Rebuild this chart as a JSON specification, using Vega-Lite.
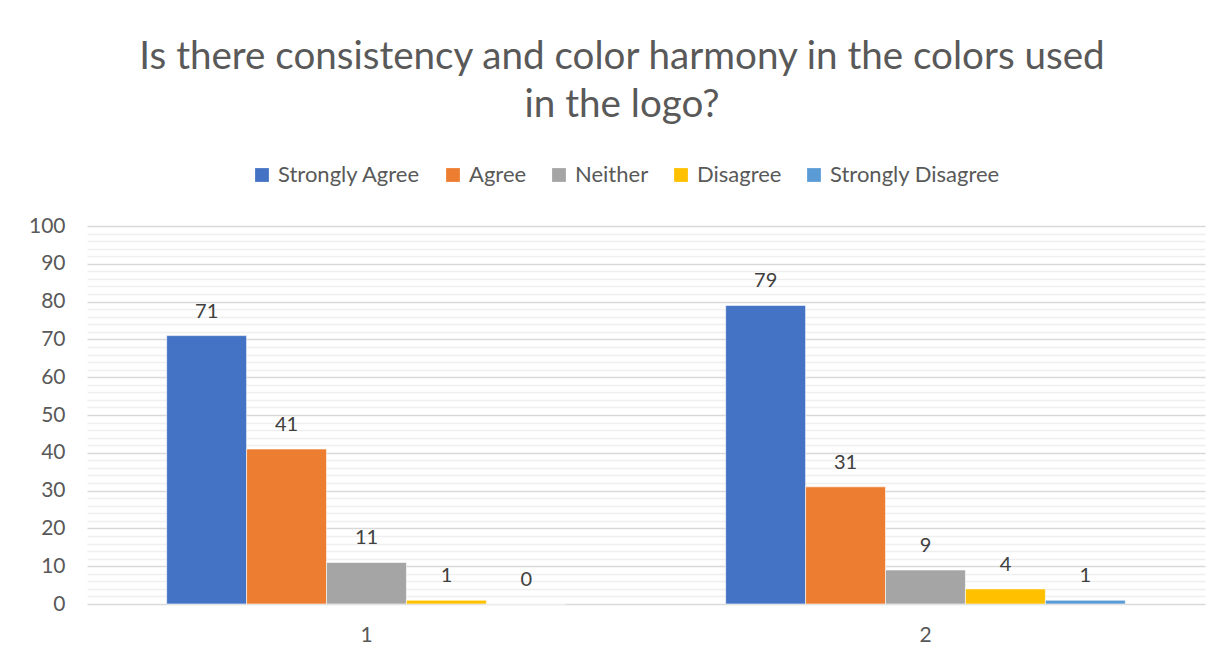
{
  "$schema": "https://vega.github.io/schema/vega-lite/v6.json",
  "width": 1118,
  "height": 378,
  "autosize": {"type": "none"},
  "padding": {"left": 87, "top": 226, "right": 26, "bottom": 59},
  "background": "white",
  "config": {
    "font": "Lato",
    "view": {"stroke": null}
  },
  "title": {
    "text": ["Is there consistency and color harmony in the colors used", "in the logo?"],
    "fontSize": 38.6,
    "fontWeight": "normal",
    "color": "#595959",
    "lineHeight": 48,
    "anchor": "middle",
    "dx": -24,
    "offset": 38,
    "font": "Lato"
  },
  "data": {
    "values": [
      {"group": "1", "response": "Strongly Agree", "count": 71},
      {"group": "1", "response": "Agree", "count": 41},
      {"group": "1", "response": "Neither", "count": 11},
      {"group": "1", "response": "Disagree", "count": 1},
      {"group": "1", "response": "Strongly Disagree", "count": 0},
      {"group": "2", "response": "Strongly Agree", "count": 79},
      {"group": "2", "response": "Agree", "count": 31},
      {"group": "2", "response": "Neither", "count": 9},
      {"group": "2", "response": "Disagree", "count": 4},
      {"group": "2", "response": "Strongly Disagree", "count": 1}
    ]
  },
  "encoding": {
    "x": {
      "field": "group",
      "type": "nominal",
      "scale": {"paddingInner": 0.285, "paddingOuter": 0.1425},
      "axis": {
        "title": null,
        "labelAngle": 0,
        "labelFontSize": 21,
        "labelColor": "#595959",
        "labelPadding": 20,
        "ticks": false,
        "domain": false,
        "grid": false
      }
    },
    "xOffset": {
      "field": "response",
      "type": "nominal",
      "sort": ["Strongly Agree", "Agree", "Neither", "Disagree", "Strongly Disagree"],
      "scale": {"paddingInner": 0, "paddingOuter": 0}
    },
    "y": {
      "field": "count",
      "type": "quantitative",
      "scale": {"domain": [0, 100], "nice": false},
      "axis": {
        "title": null,
        "values": [0, 2, 4, 6, 8, 10, 12, 14, 16, 18, 20, 22, 24, 26, 28, 30, 32, 34, 36, 38, 40, 42, 44, 46, 48, 50, 52, 54, 56, 58, 60, 62, 64, 66, 68, 70, 72, 74, 76, 78, 80, 82, 84, 86, 88, 90, 92, 94, 96, 98, 100],
        "labelExpr": "datum.value % 10 === 0 ? datum.label : ''",
        "labelFontSize": 21,
        "labelColor": "#595959",
        "labelPadding": 22,
        "ticks": false,
        "domain": false,
        "gridColor": {"condition": {"test": "datum.value % 10 === 0", "value": "#d9d9d9"}, "value": "#efefef"},
        "gridWidth": 1.3
      }
    }
  },
  "layer": [
    {
      "mark": {"type": "bar", "stroke": "white", "strokeWidth": 0.6},
      "encoding": {
        "color": {
          "field": "response",
          "type": "nominal",
          "sort": ["Strongly Agree", "Agree", "Neither", "Disagree", "Strongly Disagree"],
          "scale": {
            "domain": ["Strongly Agree", "Agree", "Neither", "Disagree", "Strongly Disagree"],
            "range": ["#4472c4", "#ed7d31", "#a5a5a5", "#ffc000", "#5b9bd5"]
          },
          "legend": {
            "title": null,
            "orient": "none",
            "direction": "horizontal",
            "legendX": 164,
            "legendY": -62,
            "symbolType": "square",
            "symbolSize": 190,
            "symbolStrokeWidth": 0,
            "labelFontSize": 22,
            "labelColor": "#595959",
            "labelOffset": 5,
            "labelLimit": 400,
            "columnPadding": 21
          }
        }
      }
    },
    {
      "mark": {"type": "text", "dy": -24, "fontSize": 20, "color": "#404040"},
      "encoding": {"text": {"field": "count", "type": "quantitative"}}
    }
  ]
}
